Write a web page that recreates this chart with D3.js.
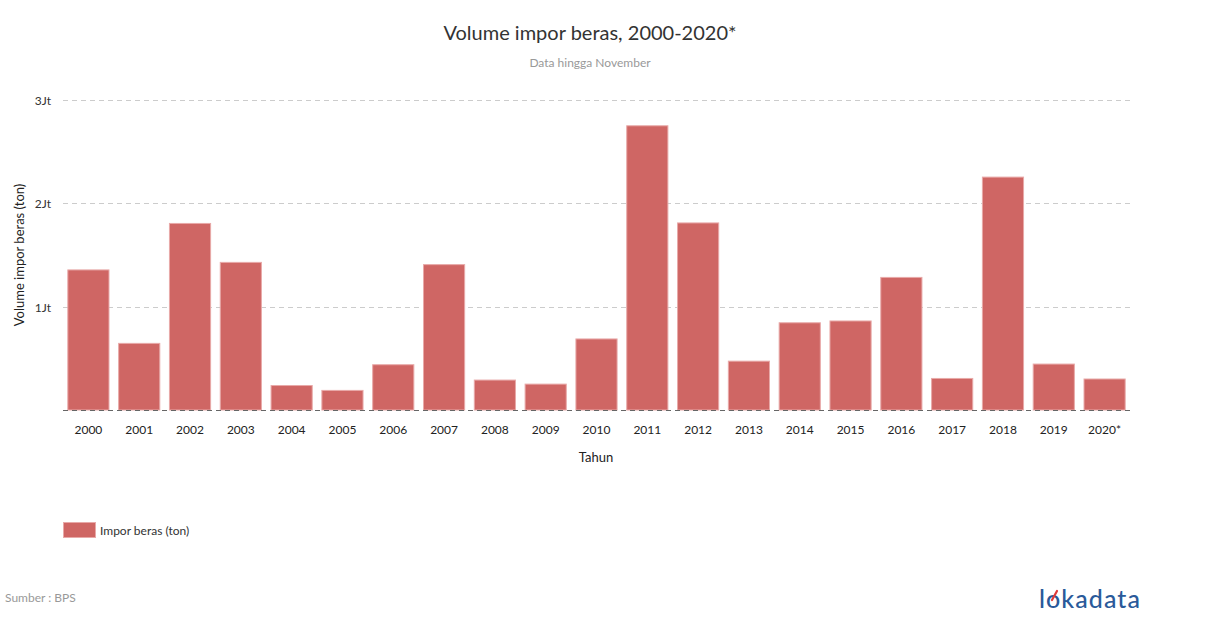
<!DOCTYPE html>
<html>
<head>
<meta charset="utf-8">
<script src="https://cdn.jsdelivr.net/npm/d3@7"></script>
<style>
  html, body { margin: 0; padding: 0; background: #fff; }
  svg { display: block; font-family: Lato, "Open Sans", sans-serif; }
</style>
</head>
<body>
<svg id="chart" width="1210" height="628"></svg>
<script>
const categories = ["2000","2001","2002","2003","2004","2005","2006","2007","2008","2009","2010","2011","2012","2013","2014","2015","2016","2017","2018","2019","2020*"];
const imporBeras = [1355666, 644733, 1805380, 1428506, 236867, 189617, 438109, 1406848, 289689, 250473, 687581, 2750476, 1810372, 472665, 844163, 861601, 1283178, 305274, 2253824, 444508, 300000];
const yTicks = [0, 1000000, 2000000, 3000000];
const yTickLabels = ["", "1Jt", "2Jt", "3Jt"];
const seriesName = "Impor beras (ton)";

const svg = d3.select("#chart");
const margin = { left: 63, right: 1130, top: 100, bottom: 410 };

const x = d3.scaleBand().domain(categories).range([margin.left, margin.right]).paddingInner(0.19).paddingOuter(0.095);
const y = d3.scaleLinear().domain([0, 3000000]).range([margin.bottom, margin.top]);

// title
svg.append("text").attr("x", 590).attr("y", 40).attr("text-anchor", "middle")
  .attr("font-size", 20).attr("fill", "#333").text("Volume impor beras, 2000-2020*");
svg.append("text").attr("x", 590).attr("y", 67).attr("text-anchor", "middle")
  .attr("font-size", 12).attr("fill", "#999").text("Data hingga November");

// gridlines
svg.append("g").selectAll("line").data(yTicks.slice(1)).join("line")
  .attr("x1", margin.left).attr("x2", margin.right)
  .attr("y1", d => Math.round(y(d)) + 0.5).attr("y2", d => Math.round(y(d)) + 0.5)
  .attr("stroke", "#ccc").attr("stroke-dasharray", "5,4");

// bars
svg.append("g").selectAll("rect").data(imporBeras).join("rect")
  .attr("x", (d, i) => x(categories[i]))
  .attr("y", d => y(d))
  .attr("width", x.bandwidth())
  .attr("height", d => y(0) - y(d))
  .attr("fill", "#cf6664")
  .attr("stroke", "#e8a9a8").attr("stroke-width", 1);

// baseline
svg.append("line").attr("x1", margin.left).attr("x2", margin.right)
  .attr("y1", y(0) + 0.5).attr("y2", y(0) + 0.5)
  .attr("stroke", "#666").attr("stroke-dasharray", "5,4");

// y tick labels
svg.append("g").selectAll("text").data(yTicks).join("text")
  .attr("x", 51).attr("y", d => y(d) + 5).attr("text-anchor", "end")
  .attr("font-size", 12).attr("fill", "#333")
  .text((d, i) => yTickLabels[i]);

// x labels
svg.append("g").selectAll("text").data(categories).join("text")
  .attr("x", d => x(d) + x.bandwidth() / 2).attr("y", 434).attr("text-anchor", "middle")
  .attr("font-size", 12).attr("fill", "#222").text(d => d);

// axis titles
svg.append("text").attr("x", 596).attr("y", 462).attr("text-anchor", "middle")
  .attr("font-size", 13).attr("fill", "#222").text("Tahun");
svg.append("text").attr("transform", "translate(24,255) rotate(-90)").attr("text-anchor", "middle")
  .attr("font-size", 13).attr("fill", "#222").text("Volume impor beras (ton)");

// legend
svg.append("rect").attr("x", 63.5).attr("y", 522.5).attr("width", 32).attr("height", 15)
  .attr("fill", "#cf6664").attr("stroke", "#e8a9a8");
svg.append("text").attr("x", 100).attr("y", 535).attr("font-size", 12).attr("fill", "#333").text(seriesName);

// source
svg.append("text").attr("x", 5).attr("y", 602).attr("font-size", 12).attr("fill", "#999").text("Sumber : BPS");

// logo
svg.append("text").attr("x", 1039).attr("y", 608).attr("font-size", 25).attr("font-weight", 500)
  .attr("fill", "#2a5a9a").attr("textLength", 101).attr("lengthAdjust", "spacing").text("lokadata");
svg.append("path").attr("d", "M1052,600 L1057,591").attr("stroke", "#e03a3a").attr("stroke-width", 2.2).attr("stroke-linecap", "round");
</script>
</body>
</html>
